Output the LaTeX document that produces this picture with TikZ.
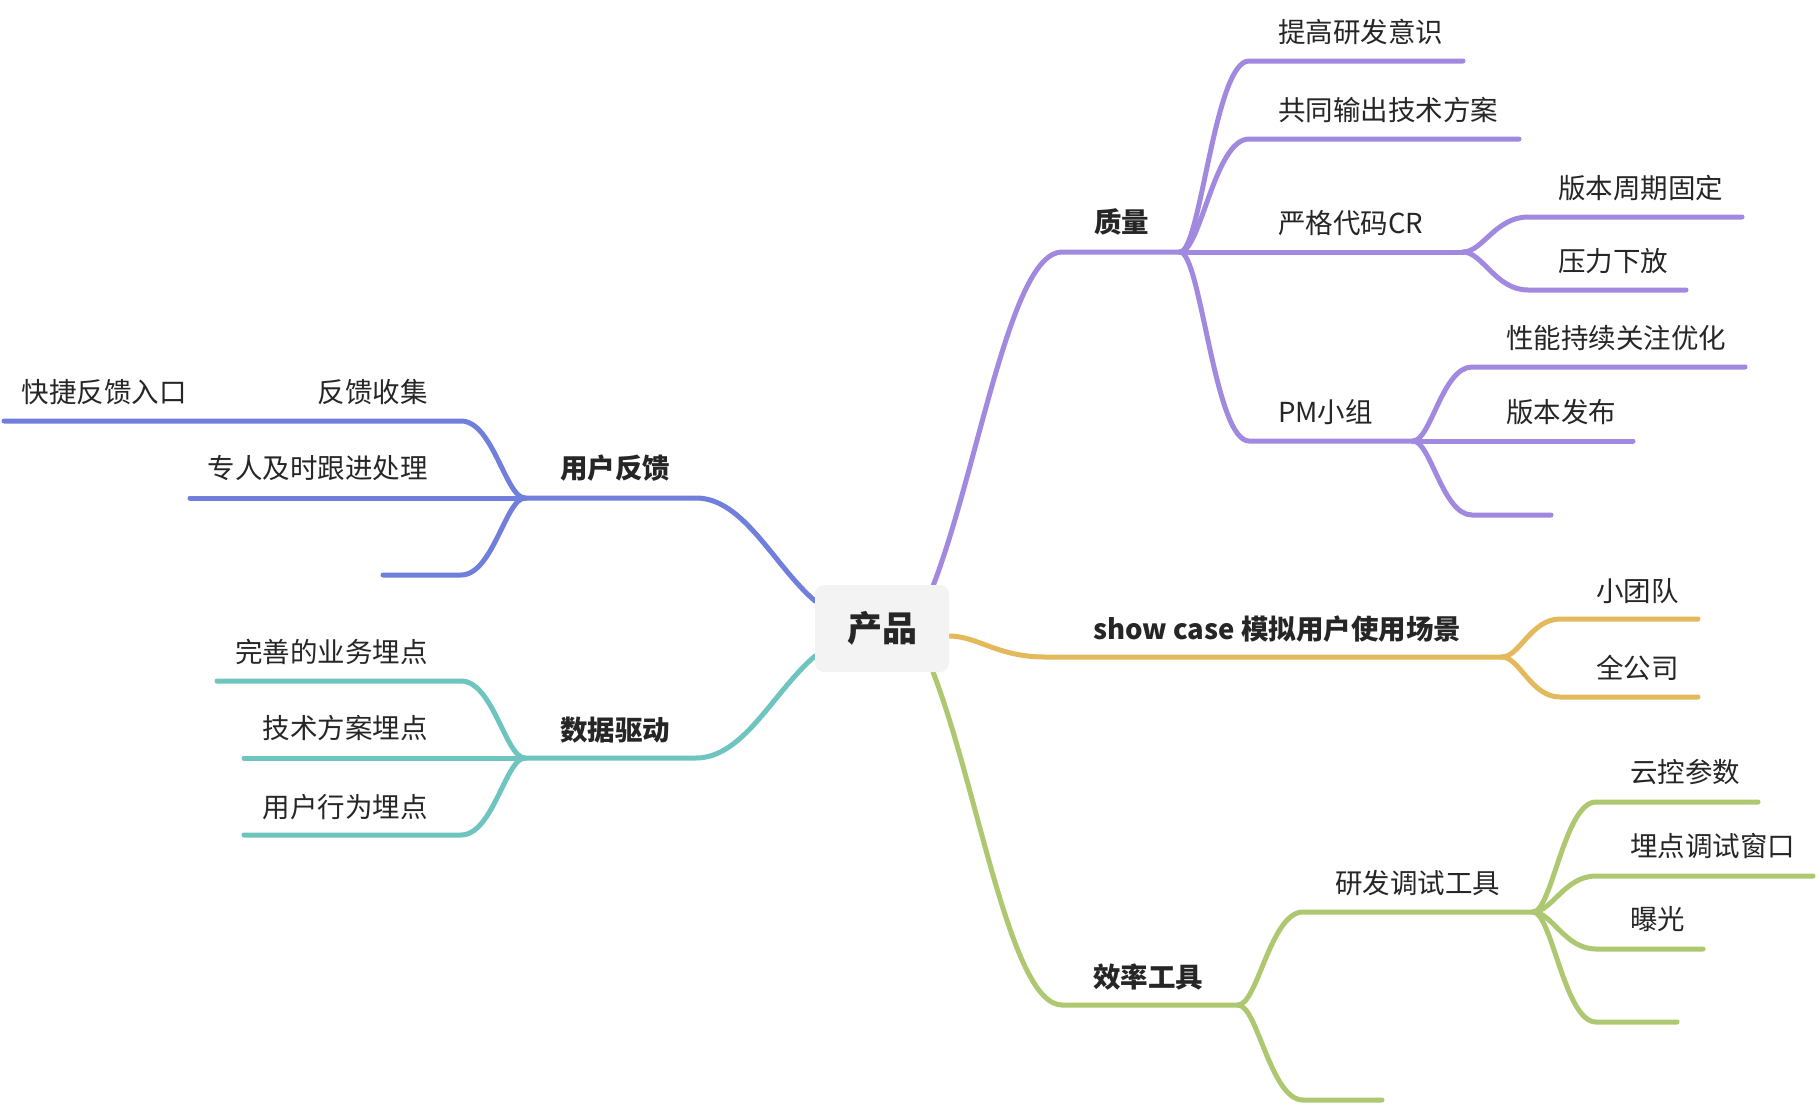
\documentclass[tikz,border=0pt]{standalone}
\usepackage{fontspec}
\setmainfont{Noto Sans CJK SC}
\usetikzlibrary{calc}
\pgfdeclarelayer{back}
\pgfdeclarelayer{bg}
\pgfsetlayers{back,bg,main}
\definecolor{cpur}{HTML}{A189DF}
\definecolor{cblu}{HTML}{6F7FDB}
\definecolor{cteal}{HTML}{6EC4BE}
\definecolor{cyel}{HTML}{E3B95C}
\definecolor{cgrn}{HTML}{AEC871}
\definecolor{txt}{HTML}{262626}
\definecolor{rootfill}{HTML}{F3F3F3}
\tikzset{
  conn/.style={line width=5pt, line cap=round, line join=round},
  lbl/.style={inner sep=0pt, text=txt, font=\fontsize{27.5}{30}\selectfont},
  blbl/.style={inner sep=0pt, text=txt, font=\fontsize{27.5}{30}\selectfont\bfseries},
  rootbox/.style={fill=rootfill, rounded corners=9pt, minimum width=134pt, minimum height=87pt, inner sep=0pt, text=txt, font=\fontsize{35}{38}\selectfont\bfseries},
}
\newcommand\mmroot[4]{\draw[conn,#4] let \p1=(#1), \p2=(#2) in (\p1) .. controls ($(\p1)!0.35!(\p2)$) and ({\x2-0.4*(\x2-\x1)},\y2) .. (\p2) -- (#3);}
\newcommand\mmchild[4]{\draw[conn,#4] let \p1=(#1), \p2=(#2) in (\p1) .. controls ({\x1+0.3*(\x2-\x1)},\y1) and ({\x2-0.5*(\x2-\x1)},\y2) .. (\p2) -- (#3);}
\begin{document}
\begin{tikzpicture}[x=1pt,y=-1pt]
\begin{pgfonlayer}{back}
\fill[white] (0,0) rectangle (1820,1104);
\end{pgfonlayer}
\useasboundingbox (0,0) rectangle (1820,1104);
% ---------- coordinates ----------
% purple
\coordinate (rq) at (933,586);
\coordinate (q0) at (1062,252);
\coordinate (qb) at (1180,252);
\coordinate (q1c) at (1249,61);  \coordinate (q1e) at (1463,61);
\coordinate (q2c) at (1249,139); \coordinate (q2e) at (1519,139);
\coordinate (q3b) at (1463,252);
\coordinate (q31c) at (1528,217); \coordinate (q31e) at (1742,217);
\coordinate (q32c) at (1528,290); \coordinate (q32e) at (1686,290);
\coordinate (q4c) at (1249,441); \coordinate (q4b) at (1413,441);
\coordinate (q41c) at (1472,367); \coordinate (q41e) at (1745,367);
\coordinate (q42e) at (1633,441);
\coordinate (q43c) at (1472,515); \coordinate (q43e) at (1551,515);
% yellow
\coordinate (ry) at (949,636);
\coordinate (y0) at (1045,657); \coordinate (yb) at (1502,657);
\coordinate (y1c) at (1560,619); \coordinate (y1e) at (1698,619);
\coordinate (y2c) at (1560,697); \coordinate (y2e) at (1698,697);
% green
\coordinate (rg) at (933,672);
\coordinate (g0) at (1062,1005); \coordinate (gb) at (1238,1005);
\coordinate (g1c) at (1303,912); \coordinate (g1b) at (1533,912);
\coordinate (g11c) at (1596,802); \coordinate (g11e) at (1758,802);
\coordinate (g12c) at (1596,876); \coordinate (g12e) at (1813,876);
\coordinate (g13c) at (1596,949); \coordinate (g13e) at (1703,949);
\coordinate (g14c) at (1596,1022); \coordinate (g14e) at (1677,1022);
\coordinate (g2c) at (1303,1100); \coordinate (g2e) at (1382,1100);
% blue
\coordinate (rb) at (815,601);
\coordinate (b0) at (696,498); \coordinate (bb) at (525,498);
\coordinate (b1c) at (461,421); \coordinate (b1e) at (4,421);
\coordinate (b2e) at (190,498);
\coordinate (b3c) at (461,575); \coordinate (b3e) at (383,575);
% teal
\coordinate (rt) at (815,656);
\coordinate (t0) at (696,758); \coordinate (tb) at (525,758);
\coordinate (t1c) at (461,681); \coordinate (t1e) at (217,681);
\coordinate (t2e) at (244,758);
\coordinate (t3c) at (461,835); \coordinate (t3e) at (244,835);
% ---------- connectors ----------
\begin{pgfonlayer}{bg}
\mmroot{rq}{q0}{qb}{cpur}
\mmchild{qb}{q1c}{q1e}{cpur}
\mmchild{qb}{q2c}{q2e}{cpur}
\draw[conn,cpur] (qb) -- (q3b);
\mmchild{q3b}{q31c}{q31e}{cpur}
\mmchild{q3b}{q32c}{q32e}{cpur}
\mmchild{qb}{q4c}{q4b}{cpur}
\mmchild{q4b}{q41c}{q41e}{cpur}
\draw[conn,cpur] (q4b) -- (q42e);
\mmchild{q4b}{q43c}{q43e}{cpur}
\mmchild{ry}{y0}{yb}{cyel}
\mmchild{yb}{y1c}{y1e}{cyel}
\mmchild{yb}{y2c}{y2e}{cyel}
\mmroot{rg}{g0}{gb}{cgrn}
\mmchild{gb}{g1c}{g1b}{cgrn}
\mmchild{g1b}{g11c}{g11e}{cgrn}
\mmchild{g1b}{g12c}{g12e}{cgrn}
\mmchild{g1b}{g13c}{g13e}{cgrn}
\mmchild{g1b}{g14c}{g14e}{cgrn}
\mmchild{gb}{g2c}{g2e}{cgrn}
\mmroot{rb}{b0}{bb}{cblu}
\mmchild{bb}{b1c}{b1e}{cblu}
\draw[conn,cblu] (bb) -- (b2e);
\mmchild{bb}{b3c}{b3e}{cblu}
\mmroot{rt}{t0}{tb}{cteal}
\mmchild{tb}{t1c}{t1e}{cteal}
\draw[conn,cteal] (tb) -- (t2e);
\mmchild{tb}{t3c}{t3e}{cteal}
\end{pgfonlayer}
% ---------- nodes ----------
\node[rootbox] (root) at (882,628.5) {产品};
\node[blbl,anchor=west] (nq) at (1094,222) {质量};
\node[lbl,anchor=west] (nq1) at (1278,32) {提高研发意识};
\node[lbl,anchor=west] (nq2) at (1278,110) {共同输出技术方案};
\node[lbl,anchor=west] (nq3) at (1278,223) {严格代码CR};
\node[lbl,anchor=west] (nq31) at (1558,188) {版本周期固定};
\node[lbl,anchor=west] (nq32) at (1558,261) {压力下放};
\node[lbl,anchor=west] (nq4) at (1278,412) {PM小组};
\node[lbl,anchor=west] (nq41) at (1506,338) {性能持续关注优化};
\node[lbl,anchor=west] (nq42) at (1506,412) {版本发布};
\node[blbl,anchor=west] (ny) at (1093,629) {show case 模拟用户使用场景};
\node[lbl,anchor=west] (ny1) at (1596,591) {小团队};
\node[lbl,anchor=west] (ny2) at (1596,668) {全公司};
\node[blbl,anchor=west] (ng) at (1093,977) {效率工具};
\node[lbl,anchor=west] (ng1) at (1335,883) {研发调试工具};
\node[lbl,anchor=west] (ng11) at (1630,772) {云控参数};
\node[lbl,anchor=west] (ng12) at (1630,846) {埋点调试窗口};
\node[lbl,anchor=west] (ng13) at (1630,919) {曝光};
\node[blbl,anchor=west] (nb) at (560,468) {用户反馈};
\node[lbl,anchor=east] (nb1) at (428,392) {反馈收集};
\node[lbl,anchor=east] (nb11) at (187,392) {快捷反馈入口};
\node[lbl,anchor=east] (nb2) at (428,468) {专人及时跟进处理};
\node[blbl,anchor=west] (nt) at (560,730) {数据驱动};
\node[lbl,anchor=east] (nt1) at (428,652) {完善的业务埋点};
\node[lbl,anchor=east] (nt2) at (428,728) {技术方案埋点};
\node[lbl,anchor=east] (nt3) at (428,807) {用户行为埋点};
\end{tikzpicture}
\end{document}
